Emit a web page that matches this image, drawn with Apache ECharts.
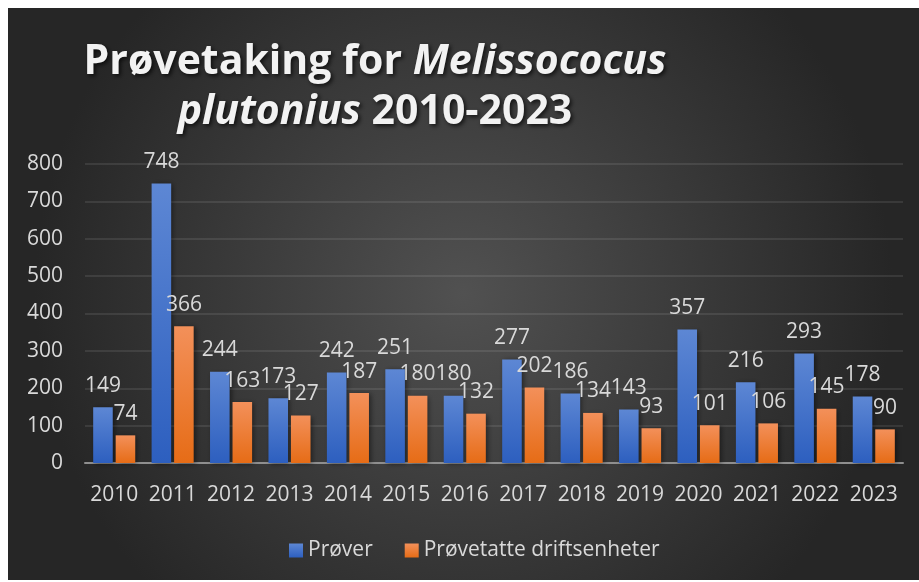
<!DOCTYPE html>
<html>
<head>
<meta charset="utf-8">
<script src="https://cdn.jsdelivr.net/npm/echarts@6/dist/echarts.min.js"></script>
<style>
html,body{margin:0;padding:0;background:#fff;}
#c{position:absolute;left:8px;top:8px;width:911px;height:572px;}
</style>
</head>
<body>
<div id="c"></div>
<script>
const years = ['2010','2011','2012','2013','2014','2015','2016','2017','2018','2019','2020','2021','2022','2023'];
const prover = [149,748,244,173,242,251,180,277,186,143,357,216,293,178];
const driftsenheter = [74,366,163,127,187,180,132,202,134,93,101,106,145,90];
const seriesNames = ['Prøver','Prøvetatte driftsenheter'];
const yTicks = {min:0, max:800, interval:100};

const FONT = '"Open Sans", "Noto Sans", sans-serif';
const TXT = '#d9d9d9';

const chart = echarts.init(document.getElementById('c'));
function grad(top, bottom){
  return {type:'linear',x:0,y:0,x2:0,y2:1,colorStops:[{offset:0,color:top},{offset:1,color:bottom}]};
}
const labelCfg = {show:true, position:'top', distance:11, color:TXT, fontFamily:FONT, fontSize:21};
const titleStyle = {fontFamily:FONT,fontSize:41,fontWeight:'bold',color:'#f2f2f2',lineHeight:50,
           textShadowColor:'rgba(0,0,0,0.7)',textShadowBlur:4,textShadowOffsetX:2,textShadowOffsetY:2};
chart.setOption({
  backgroundColor:{type:'radial',x:0.5,y:0.5,r:0.75,colorStops:[{offset:0,color:'#515151'},{offset:1,color:'#262626'}]},
  textStyle:{fontFamily:FONT},
  title:{
    text:'{b|Prøvetaking for }{i|Melissococus}\n{i|plutonius}{b| 2010-2023}',
    left:362, top:24, textAlign:'center',
    textStyle:{
      rich:{
        b:titleStyle,
        i:Object.assign({}, titleStyle, {fontStyle:'italic'})
      }
    }
  },
  legend:{
    data:seriesNames, left:276, top:527, itemWidth:14, itemHeight:14, itemGap:32,
    icon:'rect',
    textStyle:{color:TXT,fontFamily:FONT,fontSize:21}
  },
  grid:{left:77,right:16,top:156,bottom:117,containLabel:false},
  xAxis:{
    type:'category', data:years,
    axisLine:{lineStyle:{color:'#8f8f8f',width:2}},
    axisTick:{show:false},
    axisLabel:{color:TXT,fontFamily:FONT,fontSize:21,margin:22,interval:0}
  },
  yAxis:{
    type:'value', min:yTicks.min, max:yTicks.max, interval:yTicks.interval,
    axisLine:{show:false}, axisTick:{show:false},
    axisLabel:{color:TXT,fontFamily:FONT,fontSize:21,margin:22},
    splitLine:{lineStyle:{color:'rgba(255,255,255,0.12)',width:1.5}}
  },
  series:[
    {name:seriesNames[0], type:'bar', data:prover, barGap:'15%', barCategoryGap:'28%',
     itemStyle:{color:grad('#5d87d4','#2d5fbf'),shadowColor:'rgba(0,0,0,0.45)',shadowBlur:5,shadowOffsetX:2,shadowOffsetY:1},
     label:labelCfg},
    {name:seriesNames[1], type:'bar', data:driftsenheter, barGap:'15%', barCategoryGap:'28%',
     itemStyle:{color:grad('#f3905a','#e66c16'),shadowColor:'rgba(0,0,0,0.45)',shadowBlur:5,shadowOffsetX:2,shadowOffsetY:1},
     label:labelCfg}
  ]
});
</script>
</body>
</html>
